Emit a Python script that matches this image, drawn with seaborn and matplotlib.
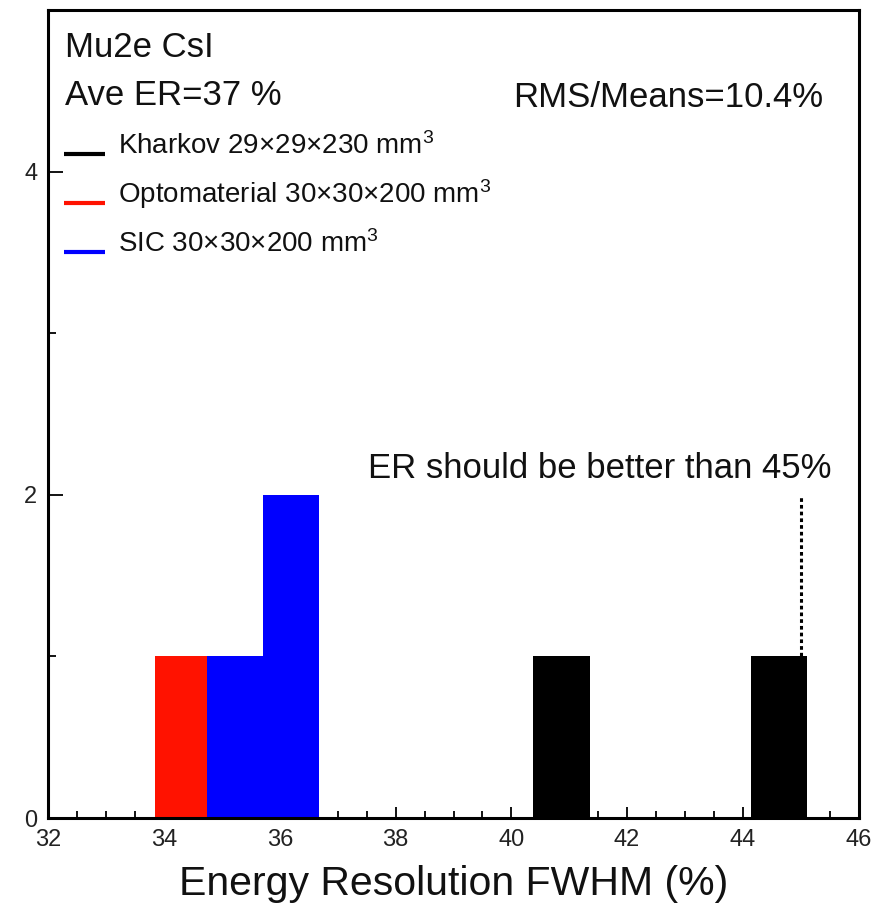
import numpy as np
import pandas as pd
import matplotlib
matplotlib.use("Agg")
import matplotlib.pyplot as plt
import seaborn as sns
from matplotlib.ticker import MultipleLocator

# Crystal energy-resolution histograms (bin edges and entries per bin)
kharkov_edges = [40.38, 41.36, 44.14, 45.11]
kharkov_counts = [1, 0, 1]
opto_edges = [33.84, 34.745]
opto_counts = [1]
sic_edges = [34.745, 35.70, 36.68]
sic_counts = [1, 2]

series_names = ["Kharkov 29\u00d729\u00d7230 mm$^{3}$",
                "Optomaterial 30\u00d730\u00d7200 mm$^{3}$",
                "SIC 30\u00d730\u00d7200 mm$^{3}$"]
series_colors = ["#000000", "#ff1200", "#0000ff"]

title_text = "Mu2e CsI"
ave_text = "Ave ER=37 %"
rms_text = "RMS/Means=10.4%"
spec_limit = 45
spec_text = "ER should be better than 45%"

x_range = (32, 46)
y_range = (0, 5)
x_label = "Energy Resolution FWHM (%)"

sns.set_style("ticks")
plt.rcParams["font.family"] = ["Liberation Sans", "DejaVu Sans"]
plt.rcParams["mathtext.fontset"] = "custom"
plt.rcParams["mathtext.rm"] = "Liberation Sans"
plt.rcParams["mathtext.it"] = "Liberation Sans"
plt.rcParams["mathtext.bf"] = "Liberation Sans"

fig = plt.figure(figsize=(8.8, 9.09), dpi=100)
ax = fig.add_axes([0.0551, 0.1001, 0.9205, 0.8889])

hists = [(kharkov_edges, kharkov_counts),
         (opto_edges, opto_counts),
         (sic_edges, sic_counts)]
for (edges, counts), col in zip(hists, series_colors):
    centers = [0.5 * (a + b) for a, b in zip(edges[:-1], edges[1:])]
    df = pd.DataFrame({"er": centers, "n": [float(c) for c in counts]})
    sns.histplot(data=df, x="er", weights="n", bins=list(edges), color=col,
                 alpha=1, linewidth=0, edgecolor=col, ax=ax, zorder=2)

# empty bins of the SIC histogram along the baseline
ax.axhline(0, color="#0000ff", lw=1.3, zorder=3)

# specification limit marker
ax.vlines(spec_limit, 1, 2, colors="black", linestyles=(0, (1.2, 1.0)),
          lw=2.2, zorder=4)

ax.set_xlim(*x_range)
ax.set_ylim(*y_range)
ax.set_ylabel("")
ax.set_xlabel(x_label, fontsize=29.5, color="#111111")
ax.xaxis.label.set_va("baseline")
ax.xaxis.set_label_coords(0.5, -0.0955)

ax.xaxis.set_major_locator(MultipleLocator(2))
ax.xaxis.set_minor_locator(MultipleLocator(0.5))
ax.yaxis.set_major_locator(MultipleLocator(2))
ax.yaxis.set_minor_locator(MultipleLocator(1))
ax.tick_params(axis="x", which="major", direction="in", length=8, width=1.3,
               labelsize=17, pad=8, top=False, color="black")
ax.tick_params(axis="x", which="minor", direction="in", length=5, width=1.3,
               top=False, color="black")
ax.tick_params(axis="y", which="major", direction="in", length=11, width=1.3,
               labelsize=17, pad=8, right=False, color="black")
ax.tick_params(axis="y", which="minor", direction="in", length=6, width=1.3,
               right=False, color="black")
for lab in ax.get_xticklabels() + ax.get_yticklabels():
    lab.set_color("#222222")
for sp in ax.spines.values():
    sp.set_visible(True)
    sp.set_linewidth(2.2)
    sp.set_color("black")
    sp.set_zorder(5)

txt_kw = dict(fontsize=25, color="#111111", va="baseline")
ax.text(32.285, 4.709, title_text, ha="left", **txt_kw)
ax.text(32.285, 4.412, ave_text, ha="left", **txt_kw)
ax.text(40.03, 4.40, rms_text, ha="left", **txt_kw)
ax.text(37.52, 2.104, spec_text, ha="left", **txt_kw)

# series key
key_y = [4.109, 3.806, 3.50]
for name, col, yk in zip(series_names, series_colors, key_y):
    ax.plot([32.27, 32.98], [yk, yk], color=col, lw=3, solid_capstyle="butt",
            zorder=4)
    ax.text(33.20, yk, name, fontsize=20, color="#111111", ha="left",
            va="baseline")

fig.savefig("out.png", dpi=100)
